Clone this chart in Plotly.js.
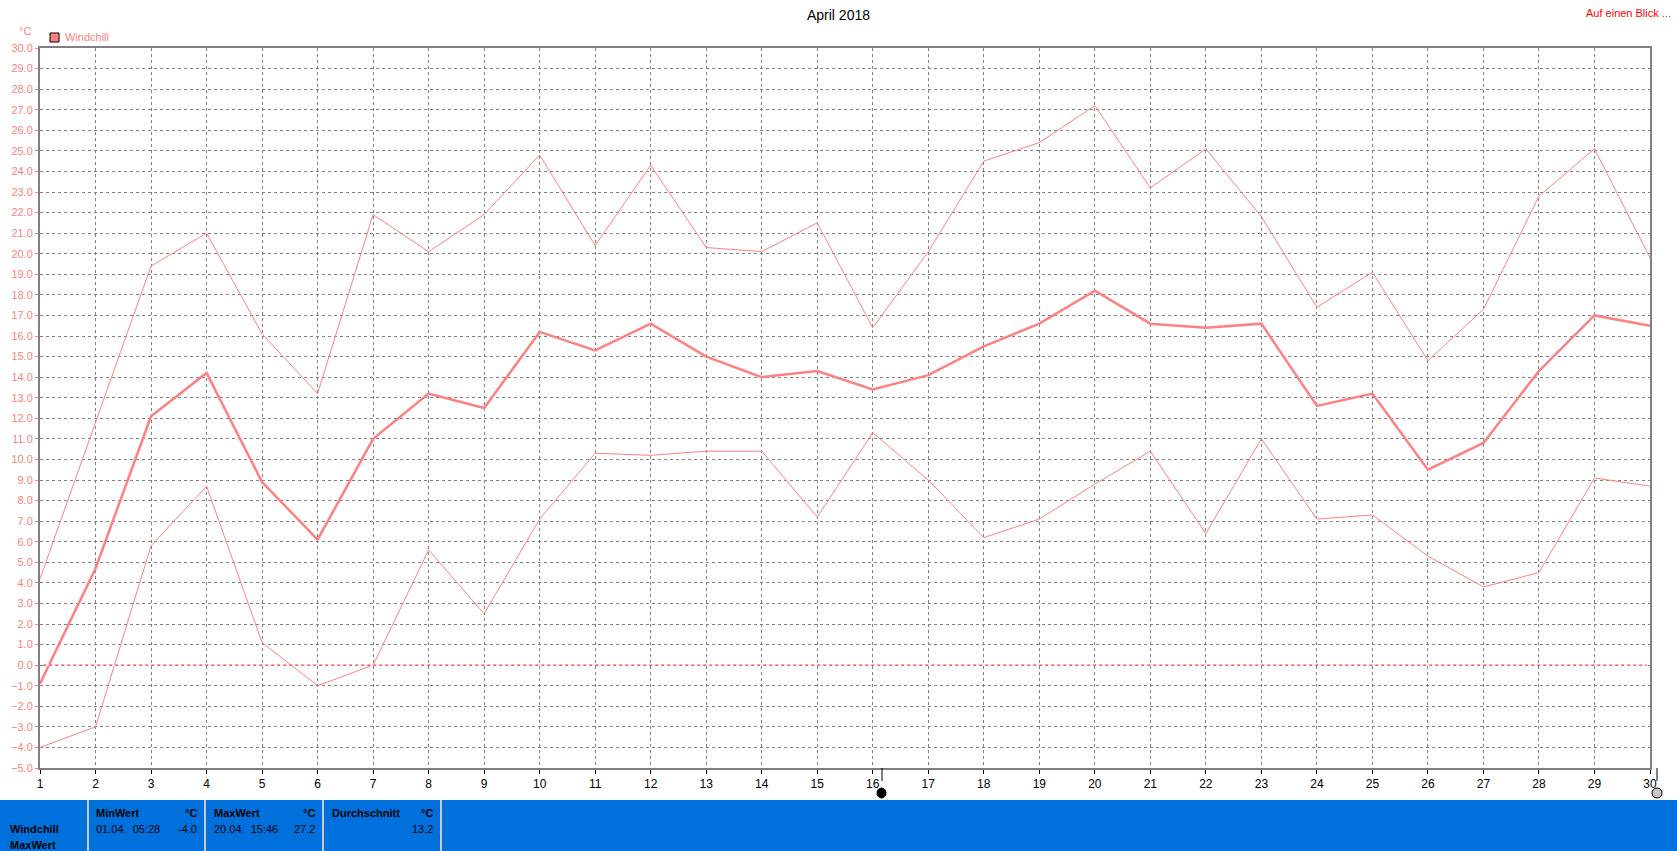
<!DOCTYPE html>
<html>
<head>
<meta charset="utf-8">
<script src="https://cdn.plot.ly/plotly-3.0.1.min.js"></script>
<style>
html,body{margin:0;padding:0;background:#fff;}
#chart{width:1677px;height:851px;}
</style>
</head>
<body>
<div id="chart"></div>
<script>
// ---- data ----
const days = [1,2,3,4,5,6,7,8,9,10,11,12,13,14,15,16,17,18,19,20,21,22,23,24,25,26,27,28,29,30];
const windchillMax  = [4.2,11.8,19.4,21.0,16.1,13.2,21.9,20.1,21.9,24.8,20.4,24.3,20.3,20.1,21.5,16.4,20.1,24.5,25.4,27.2,23.2,25.1,21.8,17.4,19.1,14.8,17.3,22.8,25.1,19.8];
const windchillMean = [-0.9,4.7,12.1,14.2,8.9,6.1,11.0,13.2,12.5,16.2,15.3,16.6,15.0,14.0,14.3,13.4,14.1,15.5,16.6,18.2,16.6,16.4,16.6,12.6,13.2,9.5,10.8,14.3,17.0,16.5];
const windchillMin  = [-4.0,-3.0,5.8,8.7,1.1,-1.0,0.0,5.6,2.5,7.1,10.3,10.2,10.4,10.4,7.2,11.3,9.0,6.2,7.1,8.8,10.4,6.4,11.0,7.1,7.3,5.3,3.8,4.5,9.1,8.7];
const seriesName = "Windchill";
const chartTitle = "April 2018";
const unitLabel = "°C";
const summaryHeaders = ["MinWert","MaxWert","Durchschnitt"];
const summaryTimes = ["01.04.  05:28","20.04.  15:46",""];
const summaryValues = ["-4.0","27.2","13.2"];
const rowLabels = ["Windchill","MaxWert"];

// ---- layout helpers (pixel -> paper) ----
const W = 1677, H = 851;
const L = 40, R = 1650, T = 48, B = 768;
const px = x => (x - L) / (R - L);
const py = y => (B - y) / (B - T);

const lineColor = "#ff8080";
const traces = [
  {x: days, y: windchillMax, mode: "lines", line: {color: lineColor, width: 1}, name: seriesName, showlegend: false, hoverinfo: "x+y"},
  {x: days, y: windchillMean, mode: "lines", line: {color: lineColor, width: 2.5}, name: seriesName, showlegend: false, hoverinfo: "x+y"},
  {x: days, y: windchillMin, mode: "lines", line: {color: lineColor, width: 1}, name: seriesName, showlegend: false, hoverinfo: "x+y"}
];

const font = "Liberation Sans, Arial, sans-serif";
const shapes = [];
const annotations = [];

// zero reference line (white backing hides the grey grid line beneath)
shapes.push({type: "line", xref: "paper", x0: 0.002, x1: 0.998, yref: "y", y0: 0, y1: 0,
  line: {color: "#ffffff", width: 1.5}, layer: "above"});
shapes.push({type: "line", xref: "paper", x0: 0.002, x1: 0.998, yref: "y", y0: 0, y1: 0,
  line: {color: "#ff0000", width: 1, dash: "3px,3px"}, layer: "above"});

// blue summary panel
shapes.push({type: "rect", xref: "paper", yref: "paper", x0: px(0), x1: px(W), y0: py(H), y1: py(800),
  fillcolor: "#0070dd", line: {width: 0}});
[88, 205, 323, 441].forEach(xx => {
  shapes.push({type: "line", xref: "paper", yref: "paper", x0: px(xx), x1: px(xx), y0: py(H), y1: py(800),
    line: {color: "#c8c8c8", width: 2}});
});

// slider markers below x-axis
shapes.push({type: "line", xref: "paper", yref: "paper", x0: px(882), x1: px(882), y0: py(768), y1: py(781), line: {color: "#000", width: 1}});
shapes.push({type: "circle", xref: "paper", yref: "paper", x0: px(877), x1: px(886), y0: py(798), y1: py(788), fillcolor: "#000", line: {color: "#000", width: 1}});
shapes.push({type: "line", xref: "paper", yref: "paper", x0: px(1657), x1: px(1657), y0: py(768), y1: py(781), line: {color: "#000", width: 1}});
shapes.push({type: "circle", xref: "paper", yref: "paper", x0: px(1652), x1: px(1662), y0: py(798), y1: py(788), fillcolor: "#c8c8c8", line: {color: "#000", width: 1}});

// legend
shapes.push({type: "rect", xref: "paper", yref: "paper", x0: px(50), x1: px(59), y0: py(42), y1: py(33),
  fillcolor: lineColor, line: {color: "#000", width: 1}});
annotations.push({xref: "paper", yref: "paper", x: px(63), y: py(37.5), text: seriesName, showarrow: false,
  xanchor: "left", yanchor: "middle", font: {family: font, size: 11, color: lineColor}});
annotations.push({xref: "paper", yref: "paper", x: px(25), y: py(31), text: unitLabel, showarrow: false,
  xanchor: "center", yanchor: "middle", font: {family: font, size: 11, color: lineColor}});
annotations.push({xref: "paper", yref: "paper", x: px(1673), y: py(13), text: "Auf einen Blick ...", showarrow: false,
  xanchor: "right", yanchor: "middle", font: {family: font, size: 11, color: "#ff0000"}});

// panel texts
const bold = s => "<b>" + s + "</b>";
annotations.push({xref: "paper", yref: "paper", x: px(8), y: py(829), text: bold(rowLabels[0]), showarrow: false,
  xanchor: "left", yanchor: "middle", font: {family: font, size: 11, color: "#000"}});
annotations.push({xref: "paper", yref: "paper", x: px(8), y: py(845), text: bold(rowLabels[1]), showarrow: false,
  xanchor: "left", yanchor: "middle", font: {family: font, size: 11, color: "#000"}});
const colLeft = [94, 212, 330];
const colRight = [199, 317, 435];
for (let i = 0; i < 3; i++) {
  annotations.push({xref: "paper", yref: "paper", x: px(colLeft[i]), y: py(813), text: bold(summaryHeaders[i]), showarrow: false,
    xanchor: "left", yanchor: "middle", font: {family: font, size: 11, color: "#000"}});
  annotations.push({xref: "paper", yref: "paper", x: px(colRight[i]), y: py(813), text: bold(unitLabel), showarrow: false,
    xanchor: "right", yanchor: "middle", font: {family: font, size: 11, color: "#000"}});
  if (summaryTimes[i]) {
    annotations.push({xref: "paper", yref: "paper", x: px(colLeft[i]), y: py(829), text: summaryTimes[i].replace(/ /g, "&nbsp;"), showarrow: false,
      xanchor: "left", yanchor: "middle", font: {family: font, size: 11, color: "#000"}});
  }
  annotations.push({xref: "paper", yref: "paper", x: px(colRight[i]), y: py(829), text: summaryValues[i], showarrow: false,
    xanchor: "right", yanchor: "middle", font: {family: font, size: 11, color: "#000"}});
}

const layout = {
  width: W, height: H,
  margin: {l: L, r: W - R, t: T, b: H - B, pad: 0},
  paper_bgcolor: "#fff", plot_bgcolor: "#fff",
  showlegend: false,
  title: {text: chartTitle, x: 0.5, xanchor: "center", y: 1 - 15 / H, yanchor: "middle", yref: "container",
    font: {family: font, size: 14, color: "#000"}},
  xaxis: {
    range: [1, 30], tickmode: "array", tickvals: days, ticktext: days.map(String),
    showgrid: true, gridcolor: "#808080", griddash: "3px,3px", gridwidth: 1,
    zeroline: false, showline: true, linecolor: "#808080", linewidth: 2, mirror: true,
    ticks: "outside", ticklen: 4, tickcolor: "#000", tickwidth: 1,
    tickfont: {family: font, size: 12, color: "#000"}, fixedrange: true
  },
  yaxis: {
    range: [-5, 30], dtick: 1, tick0: 0, tickformat: ".1f",
    showgrid: true, gridcolor: "#808080", griddash: "3px,3px", gridwidth: 1,
    zeroline: false, showline: true, linecolor: "#808080", linewidth: 2, mirror: true,
    ticks: "outside", ticklen: 3, tickcolor: "#ff8080", tickwidth: 1,
    tickfont: {family: font, size: 11, color: lineColor}, fixedrange: true
  },
  shapes: shapes,
  annotations: annotations
};

Plotly.newPlot("chart", traces, layout, {displayModeBar: false, staticPlot: true});
</script>
</body>
</html>
